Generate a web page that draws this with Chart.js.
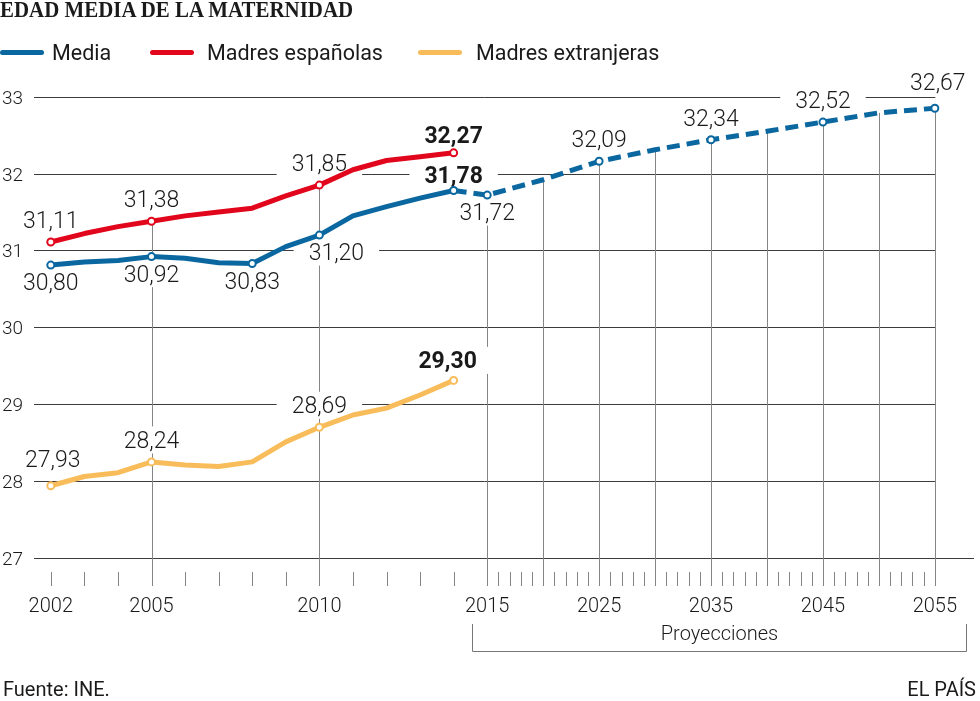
<!DOCTYPE html>
<html lang="es">
<head>
<meta charset="utf-8">
<title>Edad media de la maternidad</title>
<script src="https://cdn.jsdelivr.net/npm/chart.js@4.4.1/dist/chart.umd.min.js"></script>
<style>
  html, body { margin: 0; padding: 0; background: #fff; }
  body { width: 980px; height: 701px; position: relative; overflow: hidden; font-family: Roboto, sans-serif; color: #1a1a1a; }
  #wrap { position: absolute; left: 0; top: 0; width: 980px; height: 701px; }
  .title { position: absolute; left: 0; top: -2px; font-family: "Liberation Serif", serif; font-weight: bold; font-size: 23px; line-height: 1; transform: scaleX(0.91); transform-origin: 0 0; white-space: nowrap; }
  .sw { position: absolute; top: 50px; width: 44px; height: 5px; border-radius: 3px; }
  .lg { position: absolute; top: 42px; font-size: 21.5px; line-height: 1; font-weight: 400; white-space: nowrap; }
  .foot { position: absolute; top: 679px; font-size: 20px; line-height: 1; white-space: nowrap; }
</style>
</head>
<body>
<div id="wrap"><canvas id="myChart"></canvas></div>
<div class="title">EDAD MEDIA DE LA MATERNIDAD</div>
<div class="sw" style="left:0;background:#0b67a0"></div><div class="lg" style="left:52px">Media</div>
<div class="sw" style="left:150px;background:#e2061d"></div><div class="lg" style="left:207px">Madres españolas</div>
<div class="sw" style="left:418px;background:#f8bd5a"></div><div class="lg" style="left:476px">Madres extranjeras</div>
<div class="foot" style="left:3px">Fuente: INE.</div>
<div class="foot" style="right:4px">EL PAÍS</div>
<script>
// datos
const histYears = [2002, 2003, 2004, 2005, 2006, 2007, 2008, 2009, 2010, 2011, 2012, 2013, 2014];
const mediaValues = [30.81, 30.85, 30.87, 30.92, 30.90, 30.84, 30.83, 31.05, 31.20, 31.45, 31.57, 31.68, 31.78];
const espanolasValues = [31.11, 31.22, 31.31, 31.38, 31.45, 31.50, 31.55, 31.71, 31.85, 32.05, 32.17, 32.22, 32.27];
const extranjerasValues = [27.94, 28.06, 28.11, 28.25, 28.21, 28.19, 28.25, 28.51, 28.70, 28.86, 28.95, 29.12, 29.31];
const projYears = [2014, 2015, 2020, 2025, 2030, 2035, 2040, 2045, 2050, 2055];
const projValues = [31.78, 31.72, 31.92, 32.16, 32.31, 32.44, 32.55, 32.67, 32.79, 32.85];

// etiquetas de los puntos
const mediaLabels = ['30,80', null, null, '30,92', null, null, '30,83', null, '31,20', null, null, null, '31,78'];
const espanolasLabels = ['31,11', null, null, '31,38', null, null, null, null, '31,85', null, null, null, '32,27'];
const extranjerasLabels = ['27,93', null, null, '28,24', null, null, null, null, '28,69', null, null, null, '29,30'];
const projLabels = [null, '31,72', null, '32,09', null, '32,34', null, '32,52', null, '32,67'];

// ejes
const xTickYears = [2002, 2005, 2010, 2015, 2025, 2035, 2045, 2055];
const yTicks = [27, 28, 29, 30, 31, 32, 33];
const guideYears = [2005, 2010, 2015, 2020, 2025, 2030, 2035, 2040, 2045, 2050, 2055];

const BLUE = '#0b67a0', RED = '#e2061d', YELLOW = '#f8bd5a';

// hasta 2015 un año por unidad, después la escala se comprime (3 años por unidad)
const yearPos = (year) => year <= 2015 ? year - 2002 : 13 + (year - 2015) / 3;

const toPoints = (years, values) => years.map((yr, i) => ({x: yearPos(yr), y: values[i]}));
const radii = (labels) => labels.map(l => l ? 3.5 : 0);

function topValueAt(year) {
    let vals = [];
    let i = histYears.indexOf(year);
    if (i >= 0) vals.push(mediaValues[i], espanolasValues[i], extranjerasValues[i]);
    let j = projYears.indexOf(year);
    if (j >= 0) vals.push(projValues[j]);
    return Math.max(...vals);
}

// pequeños ajustes de posición de algunas etiquetas
const nudges = {
    'media-2010': [17, 0],
    'proj-2055': [3, -4],
    'extranjeras-2002': [2, -5],
    'extranjeras-2014': [-6, 2],
    'espanolas-2014': [0, 4],
    'media-2014': [0, 7],
};

const labelSets = [
    {key: 'espanolas', years: histYears, values: espanolasValues, labels: espanolasLabels, below: () => false},
    {key: 'media', years: histYears, values: mediaValues, labels: mediaLabels, below: (yr) => yr !== 2014},
    {key: 'extranjeras', years: histYears, values: extranjerasValues, labels: extranjerasLabels, below: () => false},
    {key: 'proj', years: projYears, values: projValues, labels: projLabels, below: (yr) => yr === 2015},
];

const crisp = (v) => Math.round(v) + 0.5;

const decorations = {
    id: 'decorations',
    beforeDatasetsDraw(chart) {
        const ctx = chart.ctx;
        const xs = chart.scales.x, ys = chart.scales.y;
        const area = chart.chartArea;
        const xEnd = xs.getPixelForValue(yearPos(2055));
        const tickTop = 572, tickBottom = 586;
        ctx.save();

        // líneas horizontales
        ctx.lineWidth = 1;
        ctx.strokeStyle = '#3c3c3c';
        yTicks.forEach(v => {
            const py = crisp(ys.getPixelForValue(v));
            ctx.beginPath();
            ctx.moveTo(area.left, py);
            ctx.lineTo(v === 27 ? area.right : xEnd + 0.5, py);
            ctx.stroke();
        });

        // líneas verticales guía
        ctx.strokeStyle = '#858585';
        guideYears.forEach(yr => {
            const px = crisp(xs.getPixelForValue(yearPos(yr)));
            ctx.beginPath();
            ctx.moveTo(px, tickBottom);
            ctx.lineTo(px, ys.getPixelForValue(topValueAt(yr)));
            ctx.stroke();
        });

        // marcas de cada año
        for (let yr = 2002; yr <= 2055; yr++) {
            if (guideYears.includes(yr)) continue;
            const px = crisp(xs.getPixelForValue(yearPos(yr)));
            ctx.beginPath();
            ctx.moveTo(px, tickTop);
            ctx.lineTo(px, tickBottom);
            ctx.stroke();
        }

        // etiquetas de los ejes
        ctx.fillStyle = '#1a1a1a';
        ctx.font = '300 20px Roboto';
        ctx.textAlign = 'center';
        ctx.textBaseline = 'alphabetic';
        xTickYears.forEach(yr => {
            ctx.fillText(String(yr), xs.getPixelForValue(yearPos(yr)), 612);
        });
        ctx.font = '300 19px Roboto';
        ctx.textAlign = 'left';
        yTicks.forEach(v => {
            ctx.fillText(String(v), 2, ys.getPixelForValue(v) + 7);
        });

        // proyecciones
        const bl = crisp(xs.getPixelForValue(yearPos(2015)) - 15);
        const br = crisp(xs.getPixelForValue(yearPos(2055)) + 31);
        ctx.strokeStyle = '#777';
        ctx.beginPath();
        ctx.moveTo(bl, 624);
        ctx.lineTo(bl, 651.5);
        ctx.lineTo(br, 651.5);
        ctx.lineTo(br, 624);
        ctx.stroke();
        ctx.font = '300 20px Roboto';
        ctx.textAlign = 'center';
        ctx.fillText('Proyecciones', (bl + br) / 2, 640);

        // etiquetas de datos con fondo blanco
        const items = [];
        labelSets.forEach(set => {
            set.labels.forEach((txt, i) => {
                if (!txt) return;
                const yr = set.years[i];
                const nudge = nudges[set.key + '-' + yr] || [0, 0];
                const below = set.below(yr);
                const px = xs.getPixelForValue(yearPos(yr)) + nudge[0];
                const py = ys.getPixelForValue(set.values[i]) + (below ? 17 : -22) + nudge[1];
                const bold = yr === 2014;
                ctx.font = (bold ? '700 ' : '300 ') + '23px Roboto';
                const w = ctx.measureText(txt).width;
                items.push({txt, px, py, bold, w});
            });
        });
        ctx.fillStyle = '#fff';
        items.forEach(it => ctx.fillRect(it.px - it.w / 2 - 15, it.py - 13.5, it.w + 30, 27));
        ctx.fillStyle = '#1a1a1a';
        ctx.textAlign = 'center';
        items.forEach(it => {
            ctx.font = (it.bold ? '700 ' : '300 ') + '23px Roboto';
            ctx.fillText(it.txt, it.px, it.py + 8);
        });
        ctx.restore();
    }
};

const lineStyle = (color) => ({
    borderColor: color,
    borderWidth: 5,
    borderCapStyle: 'round',
    borderJoinStyle: 'round',
    pointBackgroundColor: '#fff',
    pointBorderColor: color,
    pointBorderWidth: 2,
    tension: 0,
    clip: false,
});

const ctx = document.getElementById('myChart').getContext('2d');

let graphic = new Chart(ctx, {
    type: 'line',
    data: {
        datasets: [
            Object.assign({label: 'Media', data: toPoints(histYears, mediaValues), pointRadius: radii(mediaLabels)}, lineStyle(BLUE)),
            Object.assign({label: 'Madres españolas', data: toPoints(histYears, espanolasValues), pointRadius: radii(espanolasLabels)}, lineStyle(RED)),
            Object.assign({label: 'Madres extranjeras', data: toPoints(histYears, extranjerasValues), pointRadius: radii(extranjerasLabels)}, lineStyle(YELLOW)),
            Object.assign({label: 'Media (proyección)', data: toPoints(projYears, projValues), pointRadius: radii(projLabels)}, lineStyle(BLUE), {
                borderDash: [13, 7],
                borderCapStyle: 'butt',
            }),
        ]
    },
    options: {
        responsive: true,
        maintainAspectRatio: false,
        animation: false,
        events: [],
        layout: {padding: {left: 34, right: 0, top: 96.7, bottom: 143}},
        scales: {
            x: {type: 'linear', min: -0.5, max: 27.5, display: false},
            y: {type: 'linear', min: 27, max: 33, display: false},
        },
        plugins: {
            legend: {display: false},
            tooltip: {enabled: false},
        }
    },
    plugins: [decorations]
});
</script>
</body>
</html>
